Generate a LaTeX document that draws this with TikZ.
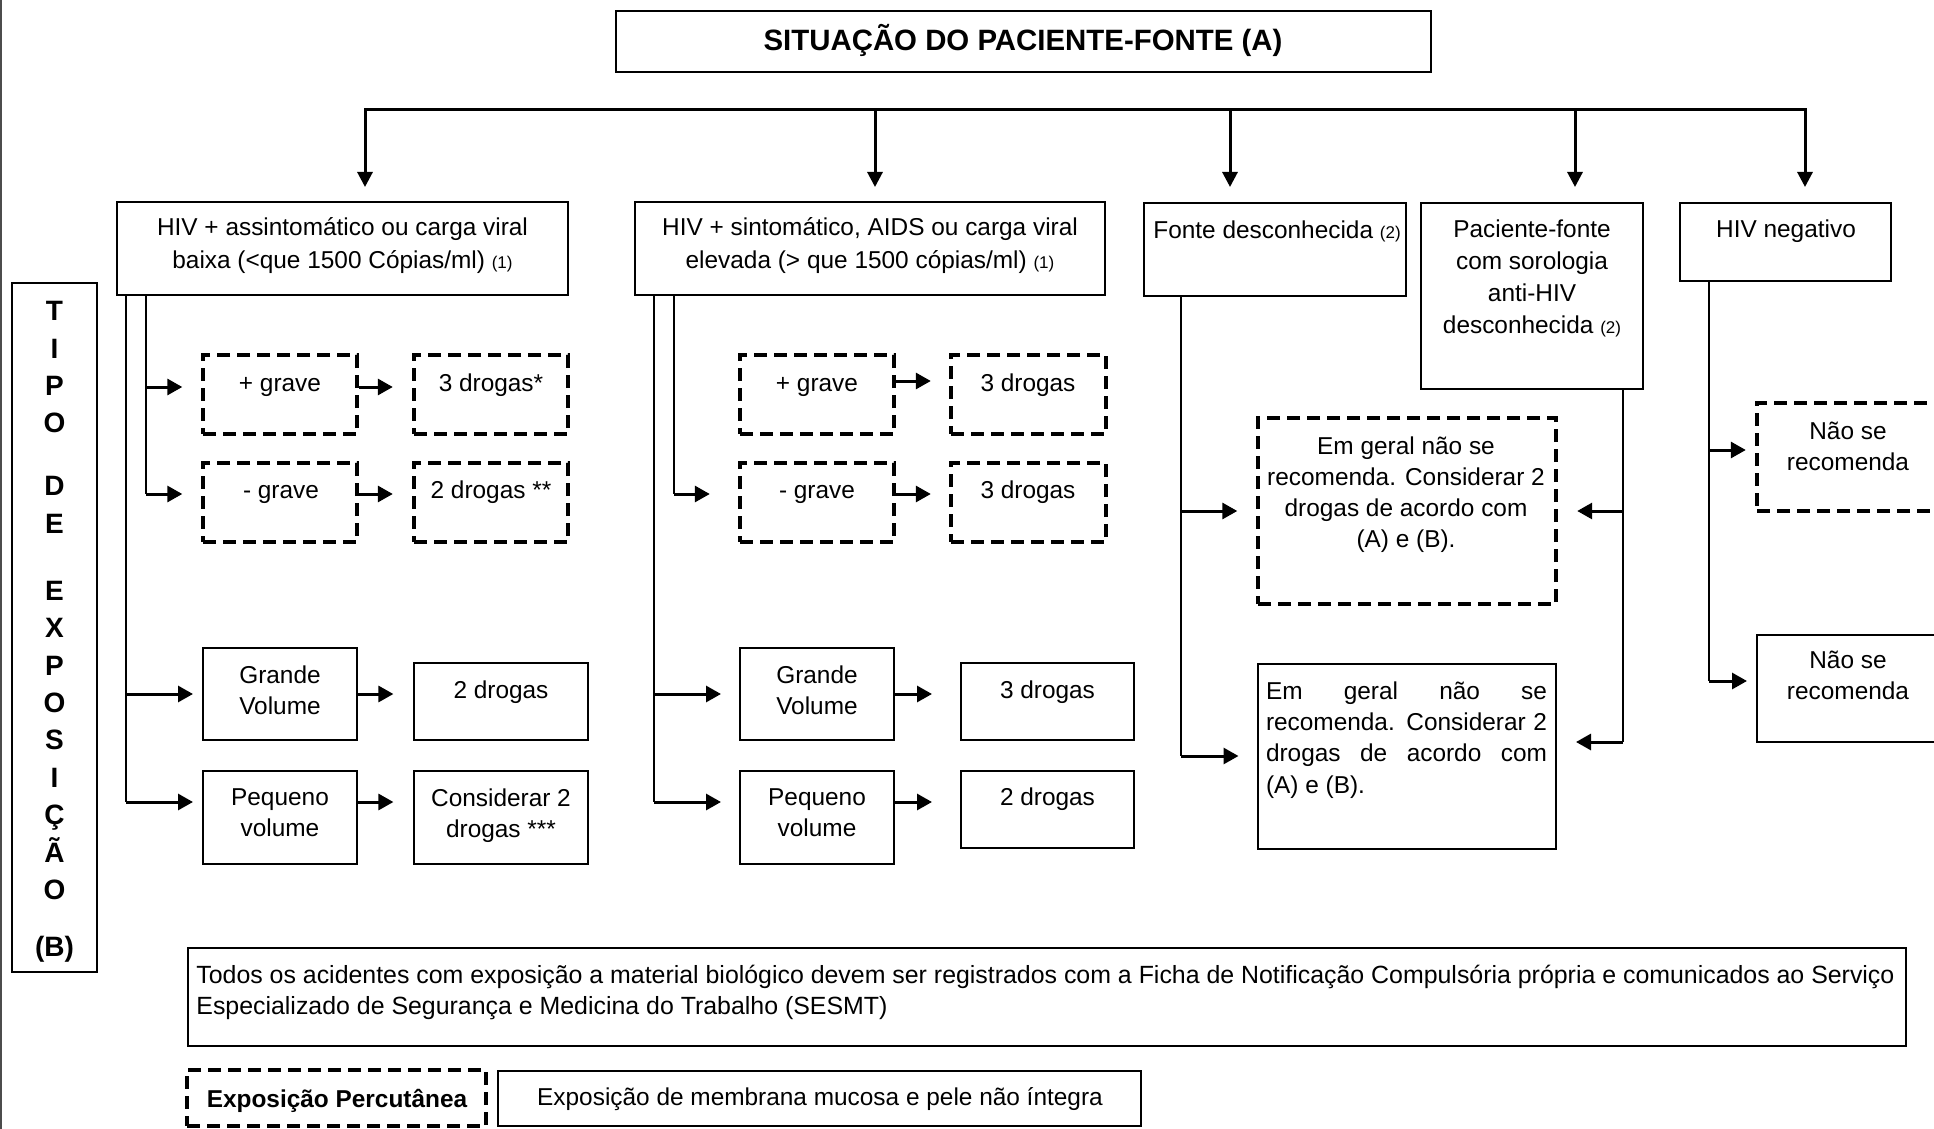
\documentclass[tikz,border=0pt]{standalone}
\usepackage{fontspec}
\setmainfont{Liberation Sans}
\usetikzlibrary{arrows.meta,fit,calc}
\setlength{\parindent}{0pt}
\hyphenpenalty=10000
\exhyphenpenalty=10000
\newcommand{\smallnum}[1]{{\fontsize{8.5}{10}\selectfont #1}}
\begin{document}
\begin{tikzpicture}[x=0.5pt,y=-0.5pt,
  sbox/.style={draw, line width=1pt, inner sep=0pt},
  dbox/.style={draw, line width=2.2pt, dash pattern=on 6.5pt off 3.5pt, inner sep=0pt},
  txt/.style={inner sep=0pt, align=center, font=\fontsize{12.2}{16}\selectfont,
    execute at begin node=\strut, execute at end node=\strut},
  arr/.style={line width=1.5pt, -{Triangle[length=7.5pt,width=8pt]}},
  toparr/.style={line width=1.5pt, -{Triangle[length=7.5pt,width=7.5pt]}},
  spine/.style={line width=0.9pt},
  bus/.style={line width=1.5pt, line cap=rect}]
\useasboundingbox (0,0) rectangle (1934,1129);
\clip (0,0) rectangle (1934,1129);
\draw[line width=0.75pt, black!70] (1,0) -- (1,1129);

% ---------- boxes ----------
\node[sbox, fit={(616,11)(1431,72)}] (title) {};
\node[sbox, fit={(117,202)(568,295)}] (b1) {};
\node[sbox, fit={(635,202)(1105,295)}] (b2) {};
\node[sbox, fit={(1144,203)(1406,296)}] (b3) {};
\node[sbox, fit={(1421,203)(1643,389)}] (b4) {};
\node[sbox, fit={(1680,203)(1891,281)}] (b5) {};
\node[sbox, fit={(12,283)(97,972)}] (tbox) {};

\node[dbox, fit={(203,355)(357,434)}] (d1a) {};
\node[dbox, fit={(414,355)(568,434)}] (d1b) {};
\node[dbox, fit={(203,463)(357,542)}] (d1c) {};
\node[dbox, fit={(414,463)(568,542)}] (d1d) {};
\node[sbox, fit={(203,648)(357,740)}] (s1a) {};
\node[sbox, fit={(414,663)(588,740)}] (s1b) {};
\node[sbox, fit={(203,771)(357,864)}] (s1c) {};
\node[sbox, fit={(414,771)(588,864)}] (s1d) {};

\node[dbox, fit={(740,355)(894,434)}] (d2a) {};
\node[dbox, fit={(951,355)(1106,434)}] (d2b) {};
\node[dbox, fit={(740,463)(894,542)}] (d2c) {};
\node[dbox, fit={(951,463)(1106,542)}] (d2d) {};
\node[sbox, fit={(740,648)(894,740)}] (s2a) {};
\node[sbox, fit={(961,663)(1134,740)}] (s2b) {};
\node[sbox, fit={(740,771)(894,864)}] (s2c) {};
\node[sbox, fit={(961,771)(1134,848)}] (s2d) {};

\node[dbox, fit={(1258,418)(1556,604)}] (d3) {};
\node[sbox, fit={(1258,664)(1556,849)}] (s3) {};
\node[dbox, fit={(1757,403)(1948,511)}] (d5) {};
\node[sbox, fit={(1757,635)(1948,742)}] (s5) {};

\node[sbox, fit={(188,948)(1906,1046)}] (notif) {};
\node[dbox, fit={(187,1070)(486,1126)}] (dp) {};
\node[sbox, fit={(498,1071)(1141,1126)}] (sm) {};

% ---------- texts ----------
\node[txt, font=\fontsize{14.7}{17.5}\selectfont\bfseries] (titlet) at (1023,43) {SITUAÇÃO DO PACIENTE-FONTE (A)};
\node[txt, font=\fontsize{12.2}{16.5}\selectfont] (b1t) at (342.5,247.5) {HIV + assintomático ou carga viral\\baixa (<que 1500 Cópias/ml) \smallnum{(1)}};
\node[txt, font=\fontsize{12.2}{16.5}\selectfont] (b2t) at (870,247.5) {HIV + sintomático, AIDS ou carga viral\\elevada (> que 1500 cópias/ml) \smallnum{(1)}};
\node[txt, anchor=west] (b3t) at (1153,232) {Fonte desconhecida \smallnum{(2)}};
\node[txt] (b4t) at (1532,281.5) {Paciente-fonte\\com sorologia\\anti-HIV\\desconhecida \smallnum{(2)}};
\node[txt] (b5t) at (1786,231) {HIV negativo};

\node[txt, anchor=north, font=\fontsize{14}{18.7}\selectfont\bfseries] (tt) at (54.5,301)
  {T\\I\\P\\O\\[12.8pt]D\\E\\[14.8pt]E\\X\\P\\O\\S\\I\\Ç\\Ã\\O\\[9.8pt](B)};

\node[txt] (d1at) at (280,385) {+ grave};
\node[txt] (d1bt) at (491,385) {3 drogas*};
\node[txt] (d1ct) at (281,492) {- grave};
\node[txt] (d1dt) at (491,492) {2 drogas **};
\node[txt, font=\fontsize{12.2}{15.5}\selectfont] (s1at) at (280,694.5) {Grande\\Volume};
\node[txt] (s1bt) at (501,692.5) {2 drogas};
\node[txt, font=\fontsize{12.2}{15.5}\selectfont] (s1ct) at (280,817.5) {Pequeno\\volume};
\node[txt, font=\fontsize{12.2}{15.5}\selectfont] (s1dt) at (501,817.5) {Considerar 2\\drogas ***};

\node[txt] (d2at) at (817,385) {+ grave};
\node[txt] (d2bt) at (1028,385) {3 drogas};
\node[txt] (d2ct) at (817,492) {- grave};
\node[txt] (d2dt) at (1028,492) {3 drogas};
\node[txt, font=\fontsize{12.2}{15.5}\selectfont] (s2at) at (817,694.5) {Grande\\Volume};
\node[txt] (s2bt) at (1047.5,692.5) {3 drogas};
\node[txt, font=\fontsize{12.2}{15.5}\selectfont] (s2ct) at (817,817.5) {Pequeno\\volume};
\node[txt] (s2dt) at (1047.5,799) {2 drogas};

\node[txt, font=\fontsize{12.2}{15.6}\selectfont] (d3t) at (1406,497) {Em geral não se\\recomenda. Considerar 2\\drogas de acordo com\\(A) e (B).};
\node[txt, font=\fontsize{12.2}{15.6}\selectfont, align=justify, text width=140.5pt] (s3t) at (1406.5,740)
  {Em geral não se\linebreak recomenda. Considerar 2\linebreak drogas de acordo com\linebreak (A) e (B).};
\node[txt, font=\fontsize{12.2}{15.5}\selectfont] (d5t) at (1848,451) {Não se\\recomenda};
\node[txt, font=\fontsize{12.2}{15.5}\selectfont] (s5t) at (1848,680) {Não se\\recomenda};

\node[txt, align=left, anchor=north west, font=\fontsize{12.45}{15.5}\selectfont,
  execute at begin node={\rule{0pt}{10pt}}] (notift) at (196,965)
  {Todos os acidentes com exposição a material biológico devem ser registrados com a Ficha de Notificação Compulsória própria e comunicados ao Serviço\\Especializado de Segurança e Medicina do Trabalho (SESMT)};
\node[txt, font=\fontsize{12.2}{16}\selectfont\bfseries] (dpt) at (337,1100.6) {Exposição Percutânea};
\node[txt] (smt) at (820,1099) {Exposição de membrana mucosa e pele não íntegra};

% ---------- connectors ----------
\coordinate (bA) at (365,110);
\coordinate (bB) at (875,110);
\coordinate (bC) at (1230,110);
\coordinate (bD) at (1575,110);
\coordinate (bE) at (1805,110);
\draw[bus] (bA) -- (bE);
\draw[toparr, shorten >=7pt] (bA) -- (bA |- b1.north);
\draw[toparr, shorten >=7pt] (bB) -- (bB |- b2.north);
\draw[toparr, shorten >=7.5pt] (bC) -- (bC |- b3.north);
\draw[toparr, shorten >=7.5pt] (bD) -- (bD |- b4.north);
\draw[toparr, shorten >=7.5pt] (bE) -- (bE |- b5.north);

% column 1
\coordinate (c1A) at (146,387);
\coordinate (c1Ae) at (146,494);
\coordinate (c1B) at (126,694);
\coordinate (c1Be) at (126,802);
\draw[spine] (b1.south -| c1A) -- (c1Ae);
\draw[spine] (b1.south -| c1B) -- (c1Be);
\draw[arr] (c1A) -- ([xshift=-9.25pt]d1a.west |- c1A);
\draw[arr] (c1Ae) -- ([xshift=-9.25pt]d1c.west |- c1Ae);
\draw[arr] (c1B) -- ([xshift=-4.5pt]s1a.west |- c1B);
\draw[arr] (c1Be) -- ([xshift=-4.5pt]s1c.west |- c1Be);
\draw[arr] (d1a.east |- c1A) -- ([xshift=-9.5pt]d1b.west |- c1A);
\draw[arr] (d1c.east |- c1Ae) -- ([xshift=-9.5pt]d1d.west |- c1Ae);
\draw[arr] (s1a.east |- c1B) -- ([xshift=-9.8pt]s1b.west |- c1B);
\draw[arr] (s1c.east |- c1Be) -- ([xshift=-9.8pt]s1d.west |- c1Be);

% column 2
\coordinate (c2A) at (674,494);
\coordinate (c2B) at (654,694);
\coordinate (c2Be) at (654,802);
\coordinate (r2a) at (894,381);
\draw[spine] (b2.south -| c2A) -- (c2A);
\draw[spine] (b2.south -| c2B) -- (c2Be);
\draw[arr] (c2A) -- ([xshift=-14pt]d2c.west |- c2A);
\draw[arr] (c2B) -- ([xshift=-9pt]s2a.west |- c2B);
\draw[arr] (c2Be) -- ([xshift=-9pt]s2c.west |- c2Be);
\draw[arr] (d2a.east |- r2a) -- ([xshift=-9pt]d2b.west |- r2a);
\draw[arr] (d2c.east |- c2A) -- ([xshift=-9pt]d2d.west |- c2A);
\draw[arr] (s2a.east |- c2B) -- ([xshift=-14pt]s2b.west |- c2B);
\draw[arr] (s2c.east |- c2Be) -- ([xshift=-14pt]s2d.west |- c2Be);

% column 3 and 4
\coordinate (c3A) at (1181,511);
\coordinate (c3B) at (1181,756);
\draw[spine] (b3.south -| c3A) -- (c3B);
\draw[arr] (c3A) -- ([xshift=-9.25pt]d3.west |- c3A);
\draw[arr] (c3B) -- ([xshift=-9.25pt]s3.west |- c3B);
\coordinate (c4A) at (1623,511);
\coordinate (c4B) at (1623,742);
\draw[spine] (b4.south -| c4A) -- (c4B);
\draw[arr] (c4A) -- ([xshift=9.5pt]d3.east |- c4A);
\draw[arr] (c4B) -- ([xshift=9.5pt]s3.east |- c4B);

% column 5
\coordinate (c5A) at (1709,450);
\coordinate (c5B) at (1709,681);
\draw[spine] (b5.south -| c5A) -- (c5B);
\draw[arr] (c5A) -- ([xshift=-4.5pt]d5.west |- c5A);
\draw[arr] (c5B) -- ([xshift=-4.5pt]s5.west |- c5B);
\end{tikzpicture}
\end{document}
